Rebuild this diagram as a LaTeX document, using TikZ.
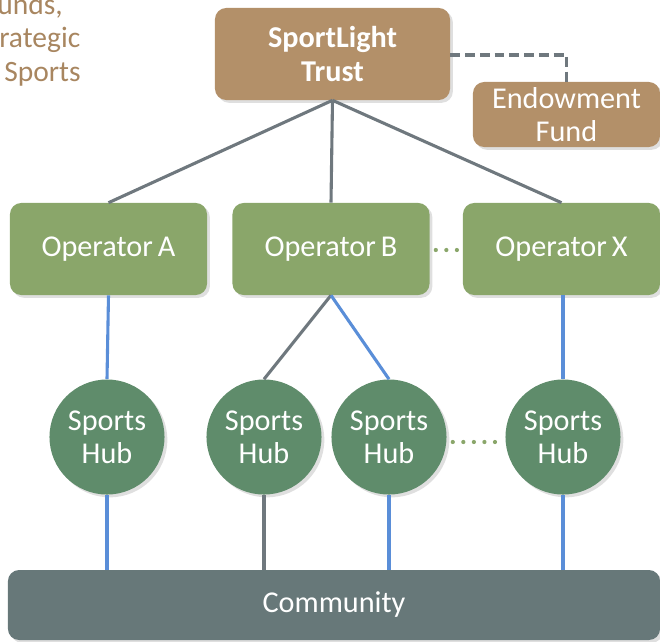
\documentclass[tikz,border=0pt]{standalone}
\usepackage{fontspec}
\setmainfont{Carlito}
\usetikzlibrary{calc}
\usetikzlibrary{shadows}
\definecolor{trustbrown}{HTML}{B39069}
\definecolor{notebrown}{HTML}{A88660}
\definecolor{opgreen}{HTML}{8AA66A}
\definecolor{hubgreen}{HTML}{5F8C6B}
\definecolor{commgray}{HTML}{677879}
\definecolor{linkgray}{HTML}{6F787E}
\definecolor{linkblue}{HTML}{5A8ED8}

\begin{document}
\begin{tikzpicture}[x=0.025cm, y=-0.025cm]% px coordinates
            \tikzstyle{box} = [rounded corners=8pt, text=white, align=center,
                               font=\fontsize{21.5}{23.5}\selectfont,
                               drop shadow={shadow xshift=2pt, shadow yshift=-2pt, opacity=0.25}]
            \tikzstyle{trust} = [box, fill=trustbrown, minimum width=5.875cm, minimum height=2.3cm, font=\fontsize{21.5}{23.5}\selectfont\bfseries]
            \tikzstyle{fund} = [box, fill=trustbrown, minimum width=4.675cm, minimum height=1.625cm]
            \tikzstyle{operator} = [box, fill=opgreen, minimum width=4.925cm, minimum height=2.3cm]
            \tikzstyle{hub} = [box, circle, fill=hubgreen, minimum size=2.875cm, inner sep=0pt]
            \tikzstyle{community} = [box, fill=commgray, minimum width=16.3cm, minimum height=1.75cm]
            \tikzstyle{grey link} = [linkgray, line width=2.2pt]
            \tikzstyle{blue link} = [linkblue, line width=2.2pt]
            \tikzstyle{more} = [opgreen, line width=3pt, line cap=round, dash pattern=on 0pt off 7.5pt]
            \tikzstyle{note} = [text=notebrown, font=\fontsize{21}{23.5}\selectfont, inner sep=0pt, anchor=base west]
            \useasboundingbox (0, 0) rectangle (660, 641);
            \clip (0, 0) rectangle (660, 641);
            % top-left note, cut by the frame
            \node[note] (note 1) at (-3, 14) {unds,};
            \node[note] (note 2) at (-1, 47) {rategic};
            \node[note] (note 3) at (4, 81) {Sports};
            % trust and fund
            \node[trust] (trust) at (332.5, 54) {SportLight\\Trust};
            \node[fund] (fund) at (566.5, 114.5) {Endowment\\Fund};
            \draw[grey link, dash pattern=on 7pt off 3.5pt] (trust.east |- 0, 55) -| (fund.north);
            % operators
            \node[operator] (op A) at (108.5, 249) {Operator\,A};
            \node[operator] (op B) at (331, 249) {Operator\,B};
            \node[operator] (op X) at (561.5, 249) {Operator\,X};
            \draw[more] ($(op B.east) + (6, 1)$) -- ($(op X.west) + (-5, 1)$);
            \foreach \op in {op A, op B, op X}
                \draw[grey link] (trust.south) -- (\op.north);
            % hubs
            \node[hub] (hub 1) at (107, 437) {Sports\\Hub};
            \node[hub] (hub 2) at (264, 437) {Sports\\Hub};
            \node[hub] (hub 3) at (389, 437) {Sports\\Hub};
            \node[hub] (hub 4) at (563, 437) {Sports\\Hub};
            \draw[more] ($(hub 3.east) + (6, 5)$) -- ($(hub 4.west) + (-4, 5)$);
            \draw[blue link] (op A.south) -- (hub 1.north);
            \draw[grey link] (op B.south) -- (hub 2.north);
            \draw[blue link] (op B.south) -- (hub 3.north);
            \draw[blue link] (op X.south -| hub 4) -- (hub 4.north);
            % community
            \node[community] (community) at (334, 605) {Community};
            \draw[blue link] (hub 1.south) -- (hub 1.south |- community.north);
            \draw[grey link] (hub 2.south) -- (hub 2.south |- community.north);
            \draw[blue link] (hub 3.south) -- (hub 3.south |- community.north);
            \draw[blue link] (hub 4.south) -- (hub 4.south |- community.north);
        \end{tikzpicture}
\end{document}
